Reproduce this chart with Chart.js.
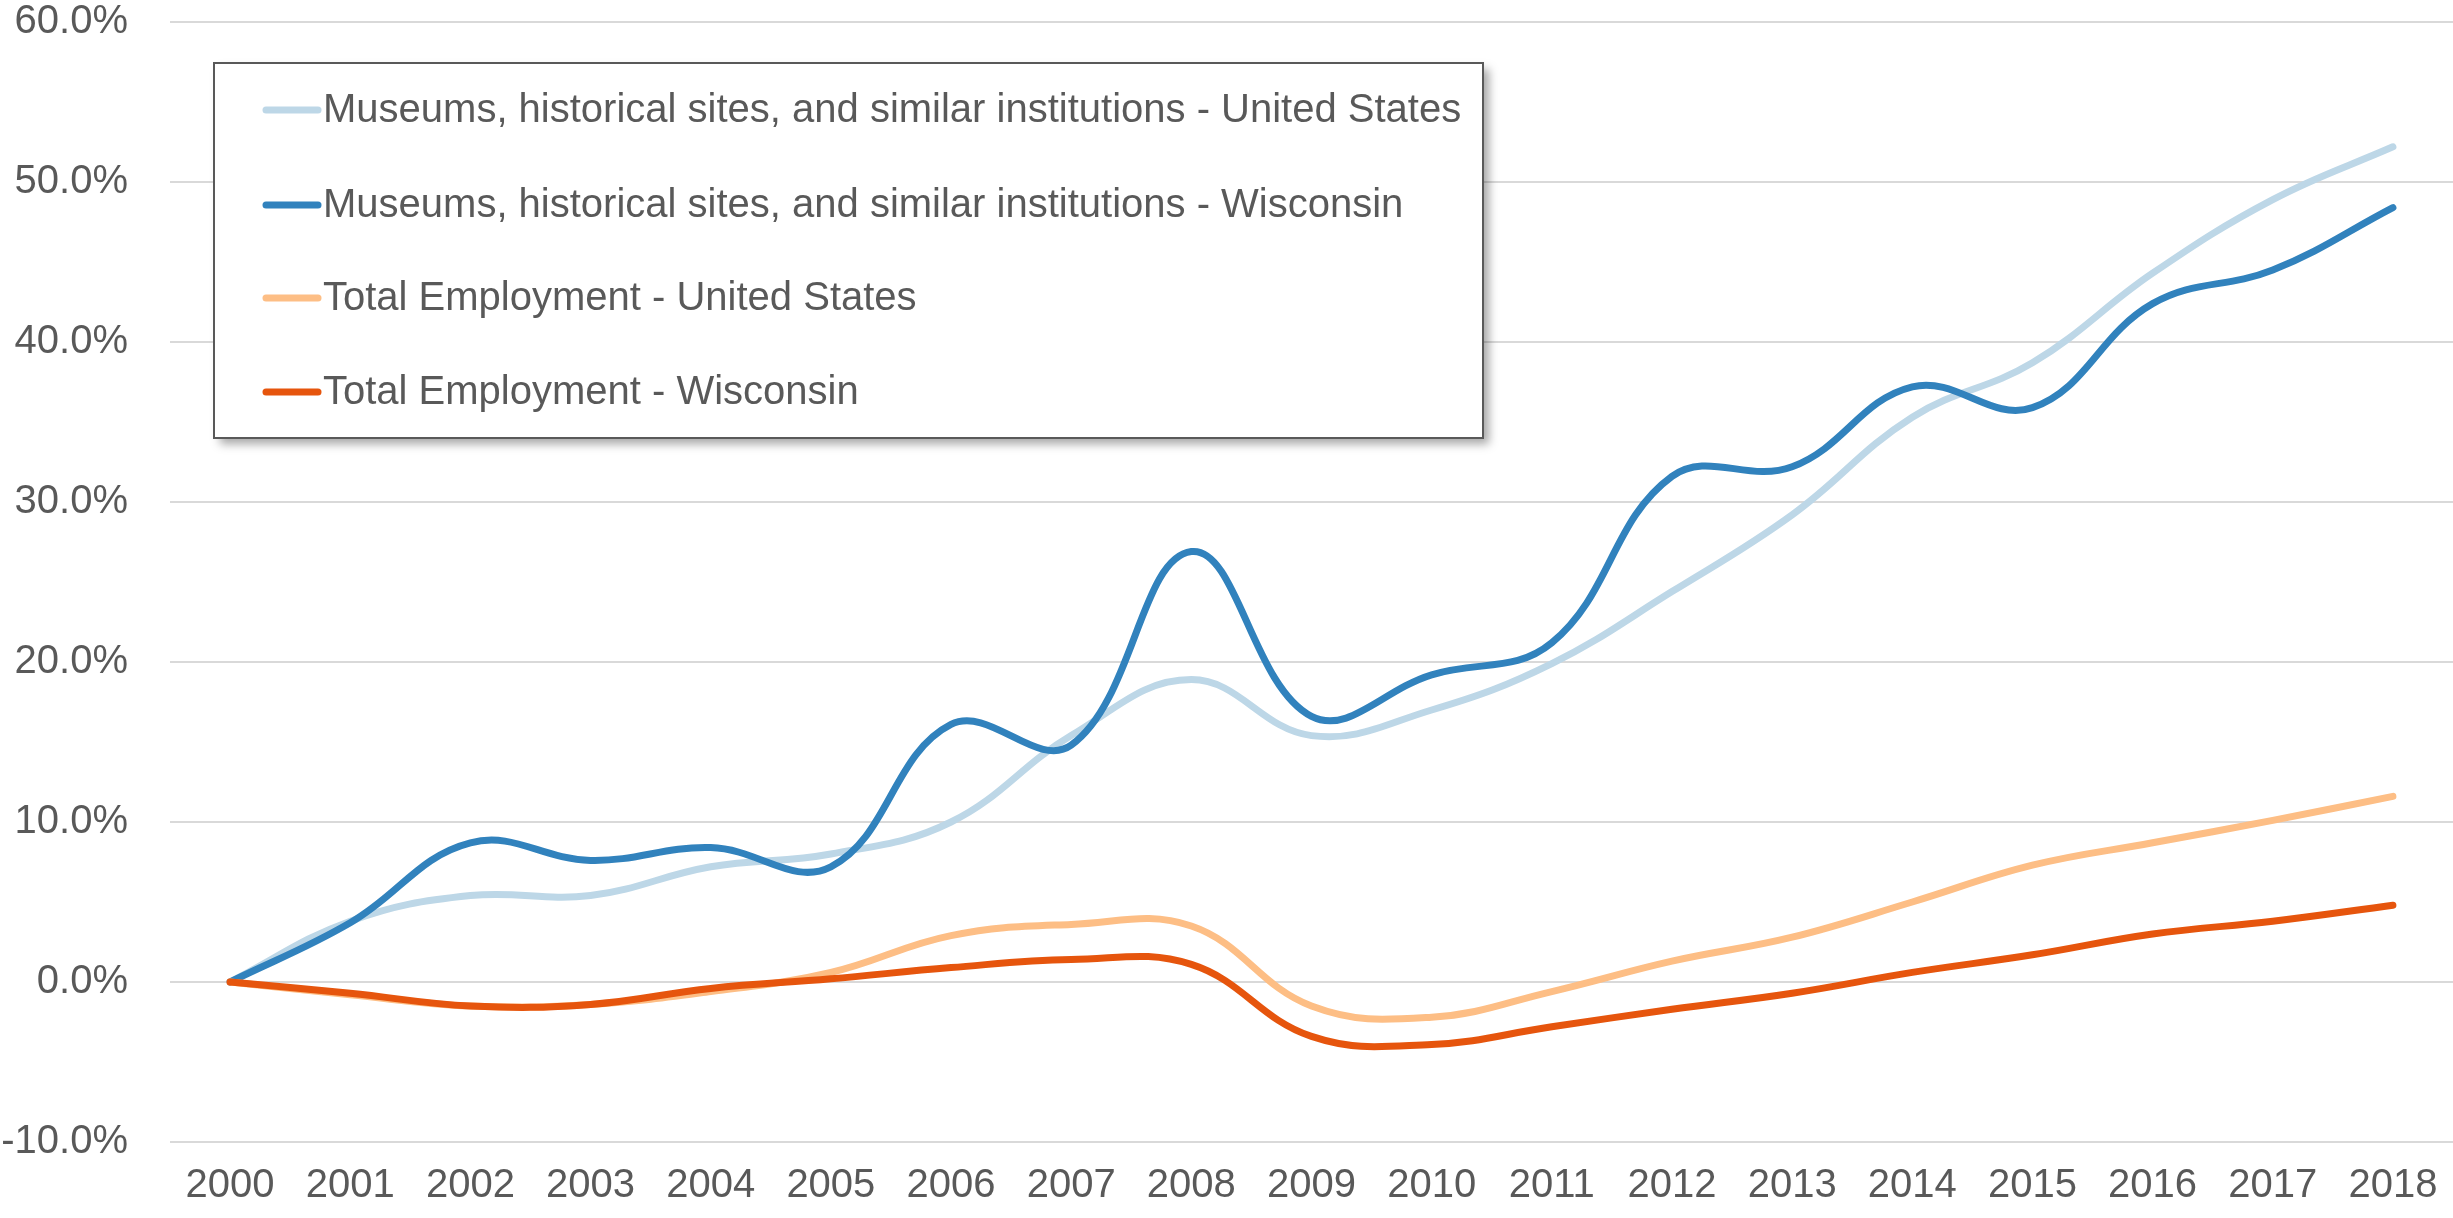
<!DOCTYPE html>
<html>
<head>
<meta charset="utf-8">
<title>Museums employment growth</title>
<style>
  html, body { margin: 0; padding: 0; background: #ffffff; }
  #wrap { position: relative; width: 2453px; height: 1218px; }
</style>
</head>
<body>
<div id="wrap"><canvas id="lineChart"></canvas></div>
<script src="https://cdn.jsdelivr.net/npm/chart.js@4.4.0/dist/chart.umd.min.js"></script>
<script>
// Years on the x axis
const years = ['2000', '2001', '2002', '2003', '2004', '2005', '2006', '2007', '2008', '2009',
  '2010', '2011', '2012', '2013', '2014', '2015', '2016', '2017', '2018'];

// Growth since 2000, in percent
const museumsUS = [0, 3.8, 5.4, 5.4, 7.2, 8.0, 10.0, 15.4, 18.9, 15.4, 17.0, 19.9, 24.4, 29.2, 35.3, 38.7, 44.3, 48.9, 52.2];
const museumsWI = [0, 3.7, 8.7, 7.6, 8.4, 7.2, 16.1, 14.8, 26.9, 16.6, 19.2, 21.2, 31.6, 32.2, 37.2, 35.9, 42.4, 44.5, 48.4];
const totalUS = [0, -0.8, -1.5, -1.4, -0.6, 0.6, 2.9, 3.6, 3.5, -1.5, -2.2, -0.6, 1.3, 2.8, 5.0, 7.3, 8.7, 10.1, 11.6];
const totalWI = [0, -0.7, -1.5, -1.4, -0.4, 0.2, 0.9, 1.4, 1.1, -3.4, -3.9, -2.8, -1.7, -0.7, 0.6, 1.7, 3.0, 3.8, 4.8];

// y axis range and step
const yMin = -10;
const yMax = 60;
const yStep = 10;

const seriesNames = [
  'Museums, historical sites, and similar institutions - United States',
  'Museums, historical sites, and similar institutions - Wisconsin',
  'Total Employment - United States',
  'Total Employment - Wisconsin'
];
const seriesColors = ['#bdd7e7', '#3182bd', '#fdbe85', '#e6550d'];

const fontFamily = '"Liberation Sans", Arial, sans-serif';
const textColor = '#595959';

function makeSet(i, values) {
  return {
    label: seriesNames[i],
    data: values,
    borderColor: seriesColors[i],
    backgroundColor: seriesColors[i],
    borderWidth: 7,
    borderCapStyle: 'round',
    borderJoinStyle: 'round',
    pointRadius: 0,
    pointHoverRadius: 0,
    tension: 0.4,
    fill: false,
    order: 4 - i  // later series sit on top, like Excel
  };
}

// Legend box drawn inside the plot
const boxLegend = {
  id: 'boxLegend',
  afterDraw(chart) {
    const ctx = chart.ctx;
    const left = 214, top = 63, w = 1269, h = 375;
    ctx.save();
    ctx.shadowColor = 'rgba(0, 0, 0, 0.35)';
    ctx.shadowBlur = 9;
    ctx.shadowOffsetX = 6;
    ctx.shadowOffsetY = 6;
    ctx.fillStyle = '#ffffff';
    ctx.fillRect(left, top, w, h);
    ctx.restore();

    ctx.save();
    ctx.strokeStyle = '#595959';
    ctx.lineWidth = 2;
    ctx.strokeRect(left, top, w, h);

    ctx.font = '40px ' + fontFamily;
    ctx.textBaseline = 'middle';
    ctx.fillStyle = textColor;
    const rowY = [110, 205, 298, 392];
    chart.data.datasets.forEach((ds, i) => {
      const y = rowY[i];
      ctx.beginPath();
      ctx.strokeStyle = ds.borderColor;
      ctx.lineWidth = 7;
      ctx.lineCap = 'round';
      ctx.moveTo(266, y);
      ctx.lineTo(318, y);
      ctx.stroke();
      ctx.fillText(ds.label, 323, y + 1);
    });
    ctx.restore();
  }
};

const chartConfig = {
  type: 'line',
  data: {
    labels: years,
    datasets: [
      makeSet(0, museumsUS),
      makeSet(1, museumsWI),
      makeSet(2, totalUS),
      makeSet(3, totalWI)
    ]
  },
  options: {
    responsive: true,
    maintainAspectRatio: false,
    animation: false,
    devicePixelRatio: 1,
    layout: { padding: { top: 22, right: 0, left: 0, bottom: 0 } },
    plugins: {
      legend: { display: false },
      tooltip: { enabled: false }
    },
    scales: {
      x: {
        offset: true,
        grid: { display: false, drawTicks: false },
        border: { display: false },
        ticks: {
          color: textColor,
          font: { family: fontFamily, size: 40 },
          padding: 20,
          maxRotation: 0,
          autoSkip: false
        },
        afterFit(scale) {
          scale.height = 76;
          scale.paddingLeft = 0;
          scale.paddingRight = 0;
        }
      },
      y: {
        min: yMin,
        max: yMax,
        grid: { color: '#d9d9d9', lineWidth: 2, drawTicks: false },
        border: { display: false },
        ticks: {
          stepSize: yStep,
          color: textColor,
          font: { family: fontFamily, size: 40 },
          padding: 42,
          callback: (v) => v.toFixed(1) + '%'
        },
        afterFit(scale) {
          scale.width = 170;
          scale.paddingTop = 22;
          scale.paddingBottom = 0;
        }
      }
    }
  },
  plugins: [boxLegend]
};

const lineChart = new Chart(document.getElementById('lineChart'), chartConfig);
</script>
</body>
</html>
